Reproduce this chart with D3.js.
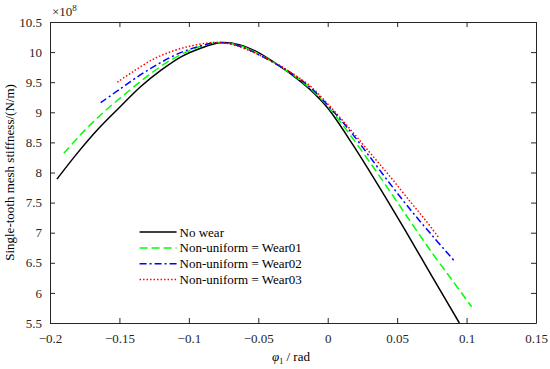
<!DOCTYPE html>
<html>
<head>
<meta charset="utf-8">
<script src="https://cdn.jsdelivr.net/npm/d3@7"></script>
<style>
  body { margin: 0; background: #fff; }
  svg text { font-family: "Liberation Serif", "Times New Roman", Times, "DejaVu Serif", serif !important; }
</style>
</head>
<body>
<div class="chart"></div>
<script>
// values (stiffness in 1e8 N/m)
const seriesNames = ['No wear', 'Non-uniform = Wear01', 'Non-uniform = Wear02', 'Non-uniform = Wear03'];
const seriesColors = ['#000000', '#00ff00', '#0000ff', '#ff0000'];
const seriesDash = [null, '8,4', '7,3,2,3', '1.5,2'];

const noWearX = [-0.195, -0.18, -0.165, -0.15, -0.135, -0.12, -0.105, -0.092, -0.0776, -0.0632, -0.0488, -0.0368, -0.025, -0.0128, 0, 0.0184, 0.0376, 0.055, 0.075, 0.0948];
const noWearY = [7.89, 8.33, 8.73, 9.08, 9.42, 9.70, 9.93, 10.06, 10.155, 10.12, 9.98, 9.80, 9.61, 9.38, 9.07, 8.45, 7.74, 7.07, 6.28, 5.5];

const wear01X = [-0.19, -0.175, -0.16, -0.145, -0.13, -0.115, -0.1, -0.088, -0.079, -0.065, -0.05, -0.037, -0.025, -0.0128, 0, 0.015, 0.03, 0.045, 0.06, 0.075, 0.09, 0.1036];
const wear01Y = [8.32, 8.70, 9.03, 9.32, 9.60, 9.84, 10.02, 10.12, 10.16, 10.12, 9.97, 9.80, 9.62, 9.40, 9.10, 8.66, 8.18, 7.68, 7.17, 6.67, 6.20, 5.77];

const wear02X = [-0.1635, -0.15, -0.135, -0.12, -0.105, -0.092, -0.081, -0.07, -0.06, -0.05, -0.037, -0.025, -0.0128, 0, 0.015, 0.03, 0.045, 0.06, 0.075, 0.0916];
const wear02Y = [9.16, 9.38, 9.62, 9.83, 10.00, 10.10, 10.155, 10.14, 10.07, 9.96, 9.80, 9.63, 9.42, 9.12, 8.72, 8.27, 7.81, 7.37, 6.96, 6.52];

const wear03X = [-0.1515, -0.14, -0.125, -0.11, -0.097, -0.085, -0.075, -0.065, -0.05, -0.037, -0.025, -0.0128, 0, 0.015, 0.03, 0.045, 0.06, 0.07, 0.0796];
const wear03Y = [9.50, 9.68, 9.89, 10.03, 10.11, 10.155, 10.155, 10.10, 9.96, 9.81, 9.64, 9.44, 9.14, 8.75, 8.34, 7.93, 7.50, 7.22, 6.93];

const xTicks = [-0.2, -0.15, -0.1, -0.05, 0, 0.05, 0.1, 0.15];
const yTicks = [5.5, 6, 6.5, 7, 7.5, 8, 8.5, 9, 9.5, 10, 10.5];

const seriesX = [noWearX, wear01X, wear02X, wear03X];
const seriesY = [noWearY, wear01Y, wear02Y, wear03Y];

const W = 550, H = 369;
const margin = { top: 22, right: 14, bottom: 46, left: 50 };
const width = W - margin.left - margin.right;
const height = H - margin.top - margin.bottom;
const serif = '"Liberation Serif", "Times New Roman", "DejaVu Serif", serif';

const svg = d3.select('.chart')
  .append('svg')
    .attr('width', W)
    .attr('height', H)
  .append('g')
    .attr('transform', `translate(${margin.left}, ${margin.top})`);

const xScale = d3.scaleLinear().domain([-0.2, 0.15]).range([0, width]);
const yScale = d3.scaleLinear().domain([5.5, 10.5]).range([height, 0]);

const fmt = d => String(d).replace('-', '\u2212');
const tick = 5;
const axisColor = '#262626';

// bottom and left axes, ticks pointing in
svg.append('g')
    .attr('transform', `translate(0, ${height})`)
  .call(d3.axisBottom(xScale).tickValues(xTicks).tickFormat(fmt).tickSizeInner(-tick).tickSizeOuter(0).tickPadding(11));

svg.append('g')
  .call(d3.axisLeft(yScale).tickValues(yTicks).tickFormat(fmt).tickSizeInner(-tick).tickSizeOuter(0).tickPadding(8));

// top and right mirrored ticks
svg.append('g')
  .call(d3.axisTop(xScale).tickValues(xTicks).tickFormat('').tickSizeInner(-tick).tickSizeOuter(0));
svg.append('g')
    .attr('transform', `translate(${width}, 0)`)
  .call(d3.axisRight(yScale).tickValues(yTicks).tickFormat('').tickSizeInner(-tick).tickSizeOuter(0));

svg.selectAll('g').attr('font-family', serif);
svg.selectAll('.domain, .tick line')
  .attr('stroke', axisColor)
  .attr('stroke-width', 1);
svg.selectAll('.tick text')
  .attr('fill', axisColor)
  .attr('font-size', 13)
  .attr('font-family', serif);

const line = d3.line()
  .x(d => xScale(d[0]))
  .y(d => yScale(d[1]))
  .curve(d3.curveCatmullRom.alpha(0.5));

svg.append('clipPath').attr('id', 'plotclip')
  .append('rect').attr('width', width).attr('height', height);

seriesNames.forEach((name, i) => {
  const pts = seriesX[i].map((x, j) => [x, seriesY[i][j]]);
  svg.append('path')
    .attr('class', 'line')
    .attr('clip-path', 'url(#plotclip)')
    .attr('d', line(pts))
    .attr('stroke', seriesColors[i])
    .attr('stroke-dasharray', seriesDash[i])
    .style('stroke-width', 1.5)
    .style('fill', 'none');
});

// exponent label
const expo = svg.append('text')
  .attr('x', 2)
  .attr('y', -6)
  .attr('font-family', serif)
  .attr('fill', axisColor)
  .attr('font-size', 13);
expo.append('tspan').text('\u00d710');
expo.append('tspan').attr('dy', -5).attr('font-size', 9).text('8');

// legend
const legend = svg.append('g').attr('transform', `translate(${xScale(-0.1355)}, ${yScale(7.01)})`);
seriesNames.forEach((name, i) => {
  const row = legend.append('g').attr('transform', `translate(0, ${i * 15.8})`);
  row.append('line')
    .attr('x1', 0).attr('x2', 37)
    .attr('stroke', seriesColors[i])
    .attr('stroke-dasharray', seriesDash[i])
    .attr('stroke-width', 1.5);
  row.append('text')
    .attr('x', 40)
    .attr('dy', '0.35em')
    .attr('font-size', 13)
    .attr('font-family', serif)
    .attr('fill', '#000')
    .text(name);
});

// axis labels
svg.append('text')
  .attr('transform', `translate(${-36}, ${height / 2}) rotate(-90)`)
  .attr('text-anchor', 'middle')
  .attr('font-size', 13)
  .attr('font-family', serif)
  .attr('fill', '#000')
  .text('Single-tooth mesh stiffness/(N/m)');

const xl = svg.append('text')
  .attr('x', width / 2 - 2)
  .attr('y', height + 38)
  .attr('text-anchor', 'middle')
  .attr('font-size', 13)
  .attr('font-family', serif)
  .attr('fill', '#000');
xl.append('tspan').attr('font-style', 'italic').text('\u03c6');
xl.append('tspan').attr('dy', 3).attr('font-size', 8).text('1');
xl.append('tspan').attr('dy', -3).text(' / rad');
</script>
</body>
</html>
